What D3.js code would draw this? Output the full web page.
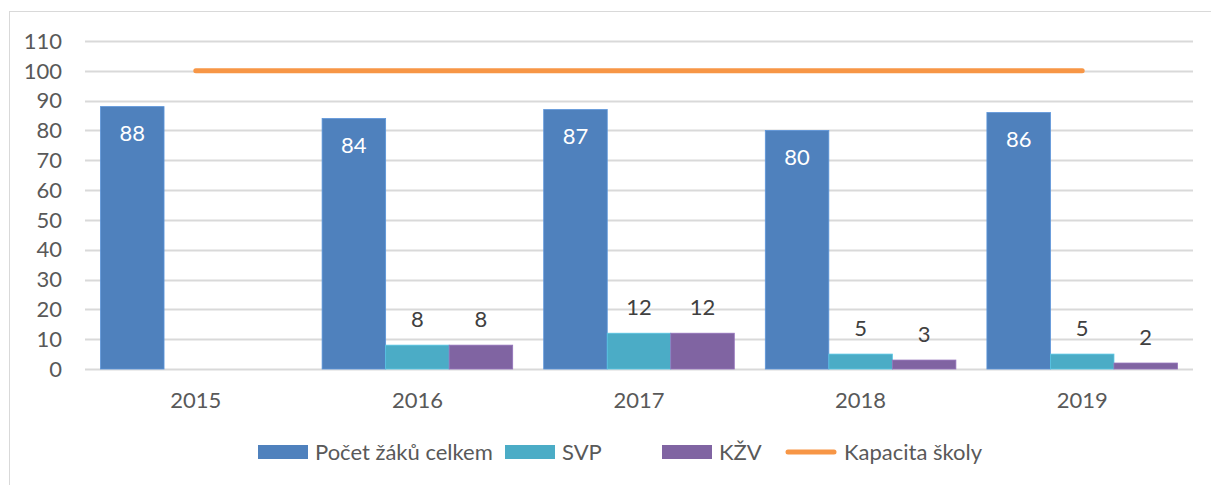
<!DOCTYPE html>
<html>
<head>
<meta charset="utf-8">
<script src="https://cdn.jsdelivr.net/npm/d3@7"></script>
<style>
  body { margin: 0; background: #fff; }
  svg { display: block; font-family: Lato, "Open Sans", sans-serif; }
</style>
</head>
<body>
<div class="container"></div>
<script>
// chart data
var years = ["2015", "2016", "2017", "2018", "2019"];
var pocetZaku = [88, 84, 87, 80, 86];
var svp = [null, 8, 12, 5, 5];
var kzv = [null, 8, 12, 3, 2];
var kapacita = [100, 100, 100, 100, 100];
var yTicks = [0, 10, 20, 30, 40, 50, 60, 70, 80, 90, 100, 110];

var seriesNames = ["Počet žáků celkem", "SVP", "KŽV", "Kapacita školy"];
var colors = ["#4F81BD", "#4BACC6", "#8064A2", "#F79646"];

var width = 1211, height = 485;
var fs = 22;

var svg = d3.select(".container").append("svg")
	.attr("width", width)
	.attr("height", height);

// chart frame (cut off at the right and bottom like the original)
svg.append("rect")
	.attr("x", 9.5).attr("y", 11.5)
	.attr("width", 1300).attr("height", 600)
	.attr("fill", "none")
	.attr("stroke", "#d9d9d9");

var x = d3.scaleBand()
	.domain(years)
	.range([85, 1193])
	.paddingInner(0.14)
	.paddingOuter(0.07);

var xs = d3.scaleBand()
	.domain([0, 1, 2])
	.range([0, x.bandwidth()]);

var y = d3.scaleLinear()
	.domain([0, 110])
	.range([369, 41]);

// gridlines
svg.append("g").selectAll("line")
	.data(yTicks)
	.enter().append("line")
		.attr("x1", 85).attr("x2", 1193)
		.attr("y1", function (d) { return Math.round(y(d)) + 0.5; })
		.attr("y2", function (d) { return Math.round(y(d)) + 0.5; })
		.attr("stroke", "#d9d9d9")
		.attr("stroke-width", 2);

// y tick labels
svg.append("g").selectAll("text")
	.data(yTicks)
	.enter().append("text")
		.attr("x", 62)
		.attr("y", function (d) { return y(d); })
		.attr("dy", "0.35em")
		.attr("text-anchor", "end")
		.attr("font-size", fs)
		.attr("fill", "#595959")
		.text(function (d) { return d; });

// x labels
svg.append("g").selectAll("text")
	.data(years)
	.enter().append("text")
		.attr("x", function (d) { return x(d) + x.bandwidth() / 2; })
		.attr("y", 400)
		.attr("dy", "0.35em")
		.attr("text-anchor", "middle")
		.attr("font-size", fs)
		.attr("fill", "#595959")
		.text(function (d) { return d; });

// bars
var barSeries = [pocetZaku, svp, kzv];
barSeries.forEach(function (values, s) {
	var items = years.map(function (yr, i) { return { year: yr, v: values[i] }; })
		.filter(function (d) { return d.v !== null; });

	svg.append("g").selectAll("rect")
		.data(items)
		.enter().append("rect")
			.attr("x", function (d) { return x(d.year) + xs(s); })
			.attr("y", function (d) { return y(d.v); })
			.attr("width", xs.bandwidth())
			.attr("height", function (d) { return y(0) - y(d.v); })
			.attr("fill", colors[s])
			.attr("stroke", d3.color(colors[s]).brighter(0.4))
			.attr("stroke-width", 0.8);

	svg.append("g").selectAll("text")
		.data(items)
		.enter().append("text")
			.attr("x", function (d) { return x(d.year) + xs(s) + xs.bandwidth() / 2; })
			.attr("y", function (d) { return s === 0 ? y(d.v) + 27 : y(d.v) - 26; })
			.attr("dy", "0.35em")
			.attr("text-anchor", "middle")
			.attr("font-size", fs)
			.attr("fill", s === 0 ? "#ffffff" : "#404040")
			.text(function (d) { return d.v; });
});

// capacity line
var line = d3.line()
	.x(function (d, i) { return x(years[i]) + x.bandwidth() / 2; })
	.y(function (d) { return y(d); });

svg.append("path")
	.datum(kapacita)
	.attr("d", line)
	.attr("fill", "none")
	.attr("stroke", colors[3])
	.attr("stroke-width", 5)
	.attr("stroke-linecap", "round");

// legend
var legendX = [258, 505, 662, 786];
var legend = svg.append("g").selectAll("g")
	.data(seriesNames)
	.enter().append("g")
		.attr("transform", function (d, i) { return "translate(" + legendX[i] + ",452)"; });

legend.each(function (d, i) {
	var g = d3.select(this);
	if (i < 3) {
		g.append("rect")
			.attr("x", 0).attr("y", -7)
			.attr("width", 50).attr("height", 14)
			.attr("fill", colors[i]);
	} else {
		g.append("line")
			.attr("x1", 2).attr("x2", 48)
			.attr("y1", 0).attr("y2", 0)
			.attr("stroke", colors[i])
			.attr("stroke-width", 5)
			.attr("stroke-linecap", "round");
	}
	g.append("text")
		.attr("x", i === 3 ? 58 : 57)
		.attr("y", 0)
		.attr("dy", "0.35em")
		.attr("font-size", fs)
		.attr("fill", "#595959")
		.text(d);
});
</script>
</body>
</html>
